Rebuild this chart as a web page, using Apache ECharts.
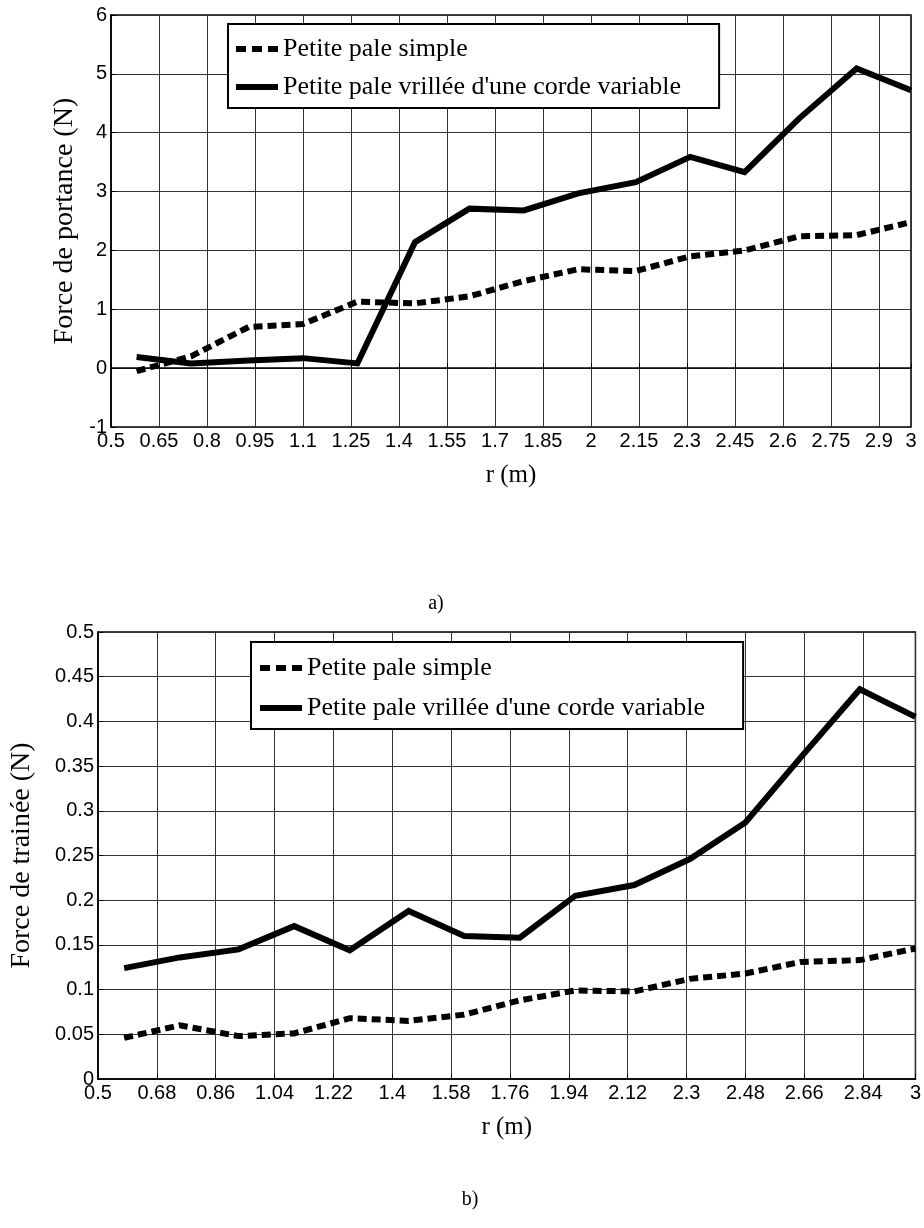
<!DOCTYPE html>
<html>
<head>
<meta charset="utf-8">
<script src="https://cdn.jsdelivr.net/npm/echarts@6/dist/echarts.min.js"></script>
<style>
  html, body { margin: 0; padding: 0; background: #fff; }
  #chart { width: 924px; height: 1228px; }
</style>
</head>
<body>
<div id="chart"></div>
<script>
// rayon (m) des stations de calcul
const r = [0.58, 0.75, 0.93, 1.10, 1.27, 1.45, 1.62, 1.79, 1.96, 2.14, 2.31, 2.48, 2.65, 2.83, 3.0]

// a) force de portance (N)
const portanceSimple  = [-0.05, 0.2, 0.70, 0.75, 1.13, 1.10, 1.22, 1.48, 1.68, 1.65, 1.90, 2.00, 2.24, 2.26, 2.48]
const portanceVrillee = [0.19, 0.08, 0.13, 0.17, 0.08, 2.14, 2.71, 2.68, 2.97, 3.16, 3.59, 3.33, 4.24, 5.09, 4.72]

// b) force de trainee (N)
const traineeSimple  = [0.046, 0.060, 0.048, 0.051, 0.068, 0.065, 0.072, 0.088, 0.099, 0.098, 0.112, 0.118, 0.131, 0.133, 0.146]
const traineeVrillee = [0.124, 0.136, 0.145, 0.171, 0.144, 0.188, 0.160, 0.158, 0.205, 0.217, 0.246, 0.287, 0.360, 0.436, 0.405]

const seriesNames = ['Petite pale simple', "Petite pale vrillée d'une corde variable"]
const yTitles = ['Force de portance (N)', 'Force de trainée (N)']
const xTitle = 'r (m)'
const panelLabels = ['a)', 'b)']

const serif = 'Liberation Serif, Times New Roman, serif'
const sans = 'Liberation Sans, Arial, sans-serif'

// legend icons: three square dashes / one thick bar
const dashIcon = 'path://M0,0h10v6h-10z M16,0h10v6h-10z M32,0h10v6h-10z'
const solidIcon = 'path://M0,0h42v6h-42z'

const pairs = (xs, ys) => xs.map((x, i) => [x, ys[i]])

function xAxisOf(gridIndex, interval) {
  return {
    gridIndex: gridIndex,
    type: 'value',
    min: 0.5,
    max: 3,
    interval: interval,
    name: xTitle,
    nameLocation: 'middle',
    nameGap: 36,
    nameTextStyle: { fontFamily: serif, fontSize: 25, color: '#000' },
    axisLine: { show: true, lineStyle: { color: '#000', width: 1.5 } },
    axisTick: { show: true, inside: true, length: 5, lineStyle: { color: '#000' } },
    axisLabel: { fontFamily: sans, fontSize: 20, color: '#000', margin: 4, hideOverlap: false, showMinLabel: true, showMaxLabel: true },
    splitLine: { show: true, lineStyle: { color: '#333', width: 1 } }
  }
}

function yAxisOf(gridIndex, min, max, interval, title, gap) {
  return {
    gridIndex: gridIndex,
    type: 'value',
    min: min,
    max: max,
    interval: interval,
    name: title,
    nameLocation: 'middle',
    nameGap: gap,
    nameTextStyle: { fontFamily: serif, fontSize: 28, color: '#000' },
    axisLine: { show: true, lineStyle: { color: '#000', width: 1.5 } },
    axisTick: { show: true, inside: true, length: 5, lineStyle: { color: '#000' } },
    axisLabel: { fontFamily: sans, fontSize: 20, color: '#000', margin: 4, showMinLabel: true, showMaxLabel: true },
    splitLine: { show: true, lineStyle: { color: '#333', width: 1 } }
  }
}

function legendOf(left, top, gap, padding) {
  return {
    left: left,
    top: top,
    orient: 'vertical',
    data: [
      { name: seriesNames[0], icon: dashIcon },
      { name: seriesNames[1], icon: solidIcon }
    ],
    selectedMode: false,
    itemWidth: 42,
    itemHeight: 7,
    itemGap: gap,
    padding: padding,
    borderColor: '#000',
    borderWidth: 2,
    borderRadius: 0,
    backgroundColor: '#fff',
    itemStyle: { color: '#000', borderWidth: 0 },
    textStyle: { fontFamily: serif, fontSize: 26, color: '#000', lineHeight: 28 }
  }
}

function lineOf(name, axisIndex, values, dashed) {
  return {
    name: name,
    type: 'line',
    xAxisIndex: axisIndex,
    yAxisIndex: axisIndex,
    data: pairs(r, values),
    symbol: 'none',
    animation: false,
    lineStyle: { color: '#000', width: 6, type: dashed ? [9, 5] : 'solid', cap: 'butt', join: 'miter' },
    itemStyle: { color: '#000' }
  }
}

const chart = echarts.init(document.getElementById('chart'))
chart.setOption({
  backgroundColor: '#fff',
  animation: false,
  grid: [
    { left: 111, top: 15, width: 800, height: 412, show: true, borderColor: '#000', borderWidth: 1.5, backgroundColor: 'transparent' },
    { left: 96, top: 632, width: 821, height: 447, show: true, borderColor: '#000', borderWidth: 1.5, backgroundColor: 'transparent' }
  ],
  xAxis: [xAxisOf(0, 0.15), xAxisOf(1, 0.18)],
  yAxis: [
    yAxisOf(0, -1, 6, 1, yTitles[0], 28),
    yAxisOf(1, 0, 0.5, 0.05, yTitles[1], 62)
  ],
  legend: [
    legendOf(228, 24, 10, [11, 38, 7, 8]),
    legendOf(251, 642, 12, [12, 38, 7, 9])
  ],
  graphic: [
    { type: 'text', x: 436, y: 604, style: { text: panelLabels[0], font: '20px ' + serif, fill: '#000', align: 'center', verticalAlign: 'middle' } },
    { type: 'text', x: 470, y: 1200, style: { text: panelLabels[1], font: '20px ' + serif, fill: '#000', align: 'center', verticalAlign: 'middle' } }
  ],
  series: [
    lineOf(seriesNames[0], 0, portanceSimple, true),
    lineOf(seriesNames[1], 0, portanceVrillee, false),
    lineOf(seriesNames[0], 1, traineeSimple, true),
    lineOf(seriesNames[1], 1, traineeVrillee, false)
  ]
})
</script>
</body>
</html>
